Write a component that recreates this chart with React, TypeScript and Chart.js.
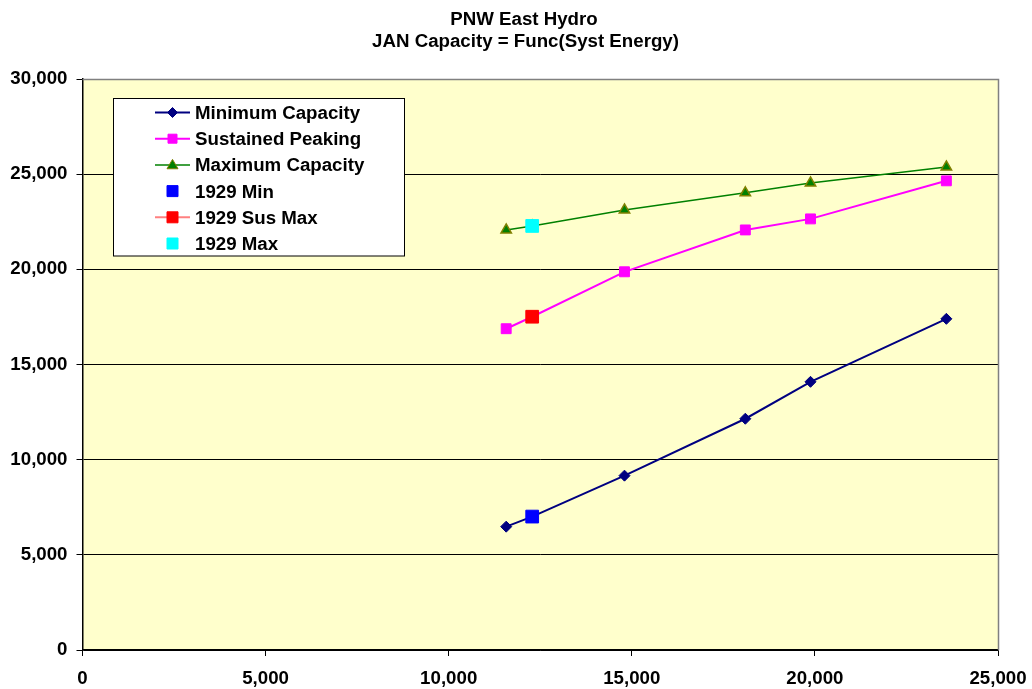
import React, { useEffect, useRef } from 'react';
import { Chart, registerables } from 'chart.js';

Chart.register(...registerables);

const titleLines = ['PNW East Hydro', 'JAN Capacity = Func(Syst Energy)'];
const energyX = [11570, 12280, 14800, 18100, 19880, 23590];
const minCapacity = [6480, 7010, 9160, 12150, 14090, 17400];
const sustainedPeaking = [16880, 17510, 19870, 22070, 22650, 24650];
const maxCapacity = [22070, 22280, 23120, 24020, 24540, 25380];
const x1929 = [12280];
const min1929 = [7010];
const susMax1929 = [17510];
const max1929 = [22280];
const seriesNames = ['Minimum Capacity', 'Sustained Peaking', 'Maximum Capacity', '1929 Min', '1929 Sus Max', '1929 Max'];

const FONT = "'Liberation Sans', Arial, sans-serif";
const FS = 18.7;

const toPts = (xs: number[], ys: number[]) => xs.map((x, i) => ({ x, y: ys[i] }));

function drawMarker(ctx: CanvasRenderingContext2D, kind: string, x: number, y: number, fill: string, stroke: string, size: number) {
  ctx.save();
  ctx.fillStyle = fill;
  ctx.strokeStyle = stroke;
  ctx.lineWidth = 1;
  ctx.beginPath();
  if (kind === 'diamond') {
    ctx.moveTo(x - size, y);
    ctx.lineTo(x, y - size);
    ctx.lineTo(x + size, y);
    ctx.lineTo(x, y + size);
    ctx.closePath();
  } else if (kind === 'triangle') {
    ctx.moveTo(x, y - size);
    ctx.lineTo(x + size, y + size * 0.7);
    ctx.lineTo(x - size, y + size * 0.7);
    ctx.closePath();
  } else {
    ctx.rect(x - size, y - size, size * 2, size * 2);
  }
  ctx.fill();
  ctx.stroke();
  ctx.restore();
}

const decorPlugin = {
  id: 'decor',
  beforeDraw(chart: any) {
    const { ctx, chartArea: a } = chart;
    ctx.save();
    ctx.fillStyle = '#FFFFCC';
    ctx.fillRect(a.left, a.top, a.right - a.left, a.bottom - a.top);
    ctx.restore();
  },
  afterDatasetsDraw(chart: any) {
    const { ctx, chartArea: a } = chart;
    ctx.save();
    ctx.strokeStyle = '#808080';
    ctx.lineWidth = 1.5;
    ctx.beginPath();
    ctx.moveTo(a.left, a.top + 0.5);
    ctx.lineTo(a.right + 0.5, a.top + 0.5);
    ctx.lineTo(a.right + 0.5, a.bottom);
    ctx.stroke();

    ctx.fillStyle = '#000';
    ctx.font = `bold ${FS}px ${FONT}`;
    ctx.textAlign = 'center';
    ctx.textBaseline = 'alphabetic';
    ctx.fillText(titleLines[0], 524, 25);
    ctx.fillText(titleLines[1], 525.5, 47);

    const bx = 113, by = 98.5, bw = 291, bh = 157.5;
    ctx.fillStyle = '#FFFFFF';
    ctx.fillRect(bx, by, bw, bh);
    ctx.strokeStyle = '#000';
    ctx.lineWidth = 1;
    ctx.strokeRect(bx + 0.5, by, bw, bh);

    const rows = [
      { line: '#000080', lw: 2, kind: 'diamond', fill: '#000080', stroke: '#000080', size: 5 },
      { line: '#FF00FF', lw: 2, kind: 'square', fill: '#FF00FF', stroke: '#FF00FF', size: 4.5 },
      { line: '#008000', lw: 1.5, kind: 'triangle', fill: '#008000', stroke: '#808000', size: 5.5 },
      { line: null, lw: 0, kind: 'square', fill: '#0000FF', stroke: '#0000FF', size: 5.5 },
      { line: '#FF8080', lw: 2, kind: 'square', fill: '#FF0000', stroke: '#FF0000', size: 5.5 },
      { line: null, lw: 0, kind: 'square', fill: '#00FFFF', stroke: '#00FFFF', size: 5.5 },
    ];
    rows.forEach((r, i) => {
      const base = 119 + i * 26.2;
      const cy = base - 6.5;
      if (r.line) {
        ctx.strokeStyle = r.line;
        ctx.lineWidth = r.lw;
        ctx.beginPath();
        ctx.moveTo(155, cy);
        ctx.lineTo(190, cy);
        ctx.stroke();
      }
      drawMarker(ctx, r.kind, 172.5, cy, r.fill, r.stroke, r.size);
      ctx.fillStyle = '#000';
      ctx.font = `bold ${FS}px ${FONT}`;
      ctx.textAlign = 'left';
      ctx.textBaseline = 'alphabetic';
      ctx.fillText(seriesNames[i], 195, base);
    });
    ctx.restore();
  },
};

export default function App() {
  const canvasRef = useRef<HTMLCanvasElement | null>(null);

  useEffect(() => {
    if (!canvasRef.current) return;
    const fmt = (v: any) => Number(v).toLocaleString('en-US');
    const chart = new Chart(canvasRef.current, {
      type: 'scatter',
      data: {
        datasets: [
          {
            label: seriesNames[0],
            data: toPts(energyX, minCapacity),
            showLine: true,
            borderColor: '#000080',
            backgroundColor: '#000080',
            borderWidth: 2,
            pointStyle: 'rectRot',
            pointRadius: 5.5,
            pointBorderWidth: 1,
            order: 1,
          },
          {
            label: seriesNames[1],
            data: toPts(energyX, sustainedPeaking),
            showLine: true,
            borderColor: '#FF00FF',
            backgroundColor: '#FF00FF',
            borderWidth: 2,
            pointStyle: 'rect',
            pointRadius: 7,
            pointBorderWidth: 1,
            order: 1,
          },
          {
            label: seriesNames[2],
            data: toPts(energyX, maxCapacity),
            showLine: true,
            borderColor: '#008000',
            backgroundColor: '#008000',
            borderWidth: 1.5,
            pointStyle: 'triangle',
            pointRadius: 6,
            pointBorderColor: '#808000',
            pointBorderWidth: 1.5,
            order: 1,
          },
          {
            label: seriesNames[3],
            data: toPts(x1929, min1929),
            showLine: false,
            borderColor: '#0000FF',
            backgroundColor: '#0000FF',
            pointStyle: 'rect',
            pointRadius: 9,
            order: 0,
          },
          {
            label: seriesNames[4],
            data: toPts(x1929, susMax1929),
            showLine: true,
            borderColor: '#FF8080',
            pointBackgroundColor: '#FF0000',
            pointBorderColor: '#FF0000',
            pointStyle: 'rect',
            pointRadius: 9,
            order: 0,
          },
          {
            label: seriesNames[5],
            data: toPts(x1929, max1929),
            showLine: false,
            borderColor: '#00FFFF',
            backgroundColor: '#00FFFF',
            pointStyle: 'rect',
            pointRadius: 9,
            order: 0,
          },
        ],
      },
      options: {
        animation: false,
        responsive: true,
        maintainAspectRatio: false,
        layout: { padding: { top: 79, right: 34, bottom: 0, left: 0 } },
        plugins: {
          legend: { display: false },
          title: { display: false },
          tooltip: { enabled: false },
        },
        scales: {
          x: {
            type: 'linear',
            min: 0,
            max: 25000,
            ticks: {
              stepSize: 5000,
              color: '#000',
              font: { family: FONT, size: FS, weight: 'bold' },
              padding: 12,
              maxRotation: 0,
              callback: fmt,
            },
            grid: { drawOnChartArea: false, drawTicks: true, tickLength: 6, color: '#000', lineWidth: 1 },
            border: { color: '#000', width: 1.5 },
            afterFit: (s: any) => { s.height = 39; s.paddingLeft = 0; s.paddingRight = 0; },
          },
          y: {
            type: 'linear',
            min: 0,
            max: 30000,
            ticks: {
              stepSize: 5000,
              color: '#000',
              font: { family: FONT, size: FS, weight: 'bold' },
              padding: 9,
              callback: fmt,
            },
            grid: { color: '#000', lineWidth: 1, tickLength: 6 },
            border: { color: '#000', width: 1.5 },
            afterFit: (s: any) => { s.width = 82.5; s.paddingTop = 0; s.paddingBottom = 0; },
          },
        },
      },
      plugins: [decorPlugin],
    });
    return () => chart.destroy();
  }, []);

  return (
    <div style={{ position: 'fixed', left: 0, top: 0, width: 1032, height: 689, background: '#fff' }}>
      <canvas ref={canvasRef} />
    </div>
  );
}
